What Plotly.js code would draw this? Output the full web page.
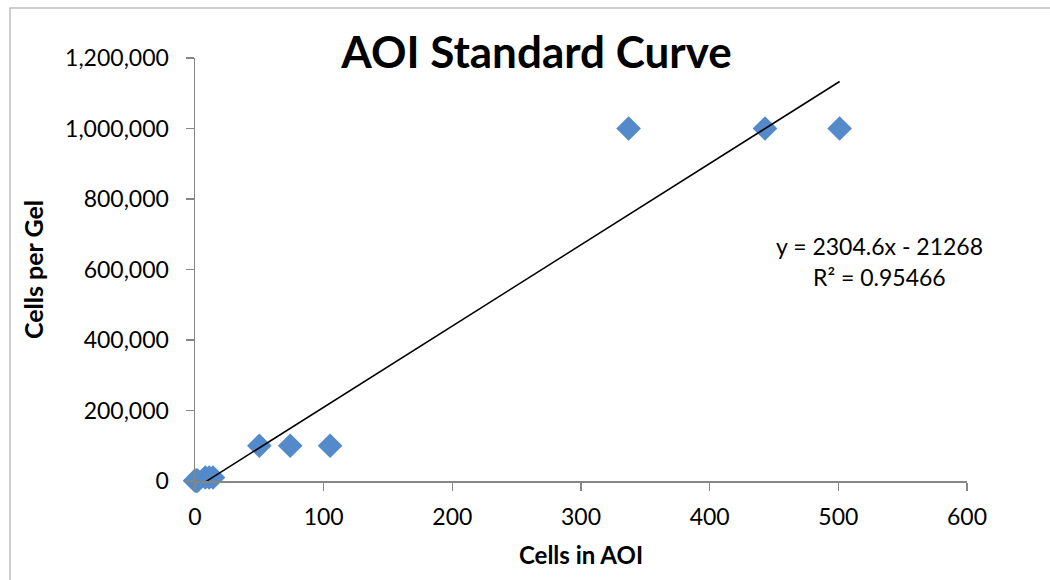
<!DOCTYPE html>
<html>
<head>
<meta charset="utf-8">
<script src="https://cdn.plot.ly/plotly-3.0.1.min.js"></script>
<style>html,body{margin:0;padding:0;background:#fff;}#chart{width:1050px;height:580px;}</style>
</head>
<body>
<div id="chart"></div>
<script>
// Data
const cellsInAOI = [0, 1, 2, 8, 11, 14, 50, 74, 105, 337, 443, 501];
const cellsPerGel = [1000, 1000, 1000, 10000, 10000, 10000, 100000, 100000, 100000, 1000000, 1000000, 1000000];
const trendSlope = 2304.6;
const trendIntercept = -21268;
const trendLabel = "y = 2304.6x - 21268";
const r2Label = "R² = 0.95466";
const xTicks = [0, 100, 200, 300, 400, 500, 600];
const yTicks = [0, 200000, 400000, 600000, 800000, 1000000, 1200000];

const xMin = Math.min(...cellsInAOI), xMax = Math.max(...cellsInAOI);
const trendX = [xMin, xMax];
const trendY = trendX.map(x => trendSlope * x + trendIntercept);

const font = "Lato, 'Open Sans', 'DejaVu Sans', sans-serif";

const data = [
  {
    x: cellsInAOI, y: cellsPerGel, type: 'scatter', mode: 'markers',
    marker: {symbol: 'diamond', size: 19, color: '#548ACA', line: {width: 0}},
    cliponaxis: false, showlegend: false, hoverinfo: 'x+y'
  },
  {
    x: trendX, y: trendY, type: 'scatter', mode: 'lines',
    line: {color: '#000000', width: 1.5}, showlegend: false, hoverinfo: 'skip'
  }
];

const layout = {
  width: 1050, height: 580,
  margin: {l: 195, r: 83, t: 58, b: 99},
  paper_bgcolor: '#ffffff', plot_bgcolor: '#ffffff',
  font: {family: font, color: '#000', size: 23},
  title: {text: '<b>AOI Standard Curve</b>', font: {family: font, size: 44, color: '#000'},
          x: 0.511, xref: 'container', xanchor: 'center', y: 0.91, yref: 'container', yanchor: 'middle'},
  xaxis: {
    range: [0, 600], tickvals: xTicks, ticktext: xTicks.map(String),
    showgrid: false, zeroline: false, showline: true, linecolor: '#868686', linewidth: 1.5,
    ticks: 'outside', ticklen: 8, tickcolor: '#868686', tickwidth: 1.5, ticklabelstandoff: 7,
    tickfont: {family: font, size: 23, color: '#000'},
    title: {text: '<b>Cells in AOI</b>', font: {family: font, size: 24, color: '#000'}, standoff: 18}
  },
  yaxis: {
    range: [0, 1200000], tickvals: yTicks, tickformat: ',',
    showgrid: false, zeroline: false, showline: true, linecolor: '#868686', linewidth: 1.5,
    ticks: 'outside', ticklen: 8, tickcolor: '#868686', tickwidth: 1.5, ticklabelstandoff: 12,
    tickfont: {family: font, size: 23, color: '#000'},
    title: {text: '<b>Cells per Gel</b>', font: {family: font, size: 25, color: '#000'}, standoff: 14}
  },
  annotations: [
    {text: trendLabel, xref: 'x', yref: 'y', x: 532, y: 666000, showarrow: false,
     xanchor: 'center', yanchor: 'middle', font: {family: font, size: 23, color: '#000'}},
    {text: r2Label, xref: 'x', yref: 'y', x: 532, y: 578000, showarrow: false,
     xanchor: 'center', yanchor: 'middle', font: {family: font, size: 23, color: '#000'}}
  ],
  shapes: [
    {type: 'rect', xref: 'paper', yref: 'paper', x0: -0.2396, x1: 2, y0: -1, y1: 1.118,
     line: {color: '#bfbfbf', width: 1.5}, fillcolor: 'rgba(0,0,0,0)', layer: 'below'}
  ]
};

Plotly.newPlot('chart', data, layout, {displayModeBar: false, staticPlot: true});
</script>
</body>
</html>
